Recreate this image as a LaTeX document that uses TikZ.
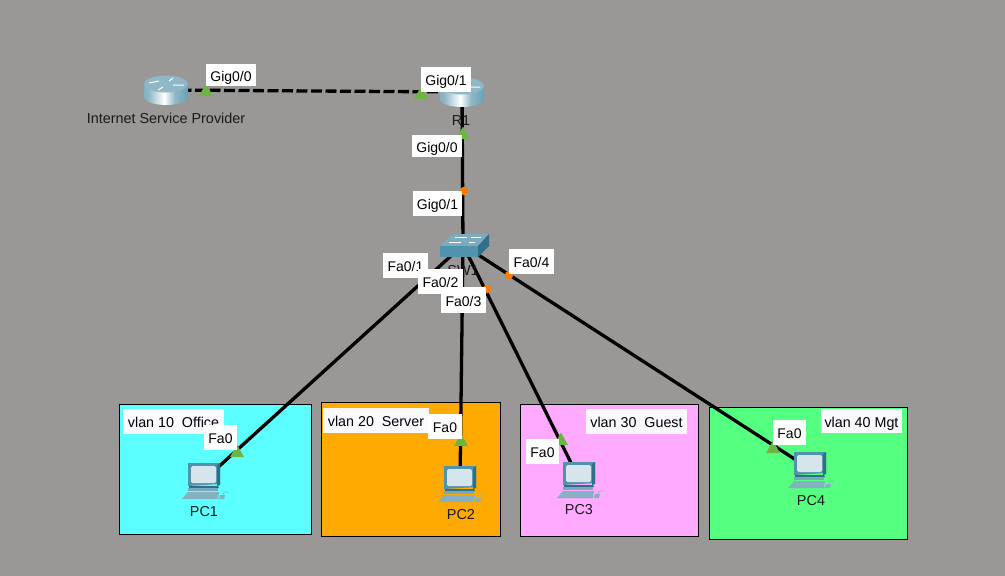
\documentclass[tikz,border=0pt]{standalone}
\usepackage{fontspec}
\setmainfont{Liberation Sans}
\definecolor{bgc}{HTML}{9A9896}
\definecolor{cyanz}{HTML}{5BFFFF}
\definecolor{orangez}{HTML}{FFAA00}
\definecolor{pinkz}{HTML}{FFAAFF}
\definecolor{greenz}{HTML}{55FF7F}
\definecolor{tri}{HTML}{6CB542}
\definecolor{dot}{HTML}{FF7A00}
\definecolor{vl}{HTML}{F9F9FF}
\definecolor{teal1}{HTML}{4F93AC}
\definecolor{teal2}{HTML}{2F7088}
\definecolor{teal3}{HTML}{8FB7C6}
\definecolor{scr}{HTML}{D6E5EC}
\pgfdeclarehorizontalshading{routerside}{100bp}{
 color(0bp)=(teal1); color(30bp)=(teal3); color(48bp)=(white); color(60bp)=(teal3); color(85bp)=(teal1); color(100bp)=(teal2)}
\tikzset{
 x=1pt,y=-1pt,
 lnk/.style={line width=3.3pt,black},
 wan/.style={lnk,dash pattern=on 11pt off 3.5pt},
 zone/.style={draw=black,line width=1pt},
 plabel/.style={fill=white,inner sep=0pt,text height=12pt,text depth=0pt,font=\fontsize{14}{16}\selectfont,text=black},
 vlabel/.style={plabel,fill=vl,font=\fontsize{14.3}{16}\selectfont},
 dname/.style={inner sep=0pt,font=\fontsize{14.4}{16}\selectfont,text=black!90},
 devnode/.style={inner sep=0pt,outer sep=0pt,minimum size=1pt},
 portdot/.style={circle,fill=dot,inner sep=0pt,minimum size=8.5pt},
 arr/.style={white,line width=1pt},
 porttri/.pic={\fill[tri] (0,-6.5)--(7,6)--(-7,6)--cycle;},
 routericon/.pic={
  \shade[shading=routerside] (-22,-6) -- (-22,7) arc[start angle=180,end angle=0,x radius=22,y radius=8] -- (22,-6) -- cycle;
  \fill[teal3] (0,-6) ellipse[x radius=22,y radius=8.5];
  \draw[arr] (-17,-7)--(-7,-9) (7,-5)--(18,-5) (-3,-3)--(-8,0) (3,-9)--(7,-12);
 },
 switchicon/.pic={
  \fill[teal3!70!teal1] (-23,1)--(15,1)--(26,-11)--(-10,-11)--cycle;
  \fill[teal1] (-23,1)--(15,1)--(15,12)--(-23,12)--cycle;
  \fill[teal2] (15,1)--(26,-11)--(26,1)--(15,12)--cycle;
  \draw[white,line width=0.8pt] (-8,-8)--(4,-8) (8,-8)--(18,-8) (-14,-3)--(-2,-3) (6,-3)--(12,-3);
 },
 pcicon/.pic={
  \fill[teal1] (-16,-17)--(16,-17)--(16,4)--(-16,6)--cycle;
  \fill[teal2] (13,-15)--(16,-17)--(16,5)--(13,6)--cycle;
  \fill[scr,rounded corners=1.5pt] (-13,-14)--(12,-14)--(12,3)--(-13,3)--cycle;
  \fill[teal2] (-15,6)--(14,6)--(15,8)--(-15,8)--cycle;
  \fill[teal3!60!teal1] (-16,8)--(14,8)--(14,11)--(-16,11)--cycle;
  \fill[teal3!85!teal1] (-16,12)--(15,12)--(14,19)--(-22,19)--cycle;
  \fill[teal3!85!teal1] (16,15)--(21,15)--(20,19)--(15,19)--cycle;
  \draw[teal3,line width=0.7pt] (19,15) .. controls (19,11) and (24,11) .. (24,13);
 }
}
\begin{document}
\begin{tikzpicture}
\useasboundingbox (0,0) rectangle (1005,576);
\fill[bgc] (0,0) rectangle (1005,576);
% VLAN zones
\draw[zone,fill=cyanz] (119.5,404.5) rectangle (311,534);
\draw[zone,fill=orangez] (321.5,402.5) rectangle (500.5,536);
\draw[zone,fill=pinkz] (520.5,404.5) rectangle (698.5,536);
\draw[zone,fill=greenz] (709,407.5) rectangle (907.5,539);
% VLAN captions
\node[vlabel,minimum width=101pt,minimum height=25pt] (v10) at (173.5,421.5) {vlan 10\ \ Office};
\node[vlabel,minimum width=106pt,minimum height=25pt] (v20) at (376,420.5) {vlan 20\ \ Server};
\node[vlabel,minimum width=101pt,minimum height=25pt] (v30) at (636.5,421.5) {vlan 30\ \ Guest};
\node[vlabel,minimum width=81pt,minimum height=24.5pt] (v40) at (861.5,421) {vlan 40 Mgt};
% Devices
\node[devnode] (isp) at (166,90) {};
\node[devnode] (r1) at (462,92) {};
\node[devnode] (sw) at (463,245) {};
\node[devnode] (pc1) at (204,480) {};
\node[devnode] (pc2) at (460,483) {};
\node[devnode] (pc3) at (579,479) {};
\node[devnode] (pc4) at (810,469) {};
% Links
\draw[wan] (isp.center) -- (r1.center);
\draw[lnk] (r1.center) -- (sw.center);
\draw[lnk] (sw.center) -- (pc1.center);
\draw[lnk] (sw.center) -- (pc2.center);
\draw[lnk] (sw.center) -- (pc3.center);
\draw[lnk] (sw.center) -- (pc4.center);
% Icons
\pic at (isp.center) {routericon};
\pic at (r1.center) {routericon};
\pic at (sw.center) {switchicon};
\pic at (pc1.center) {pcicon};
\pic at (pc2.center) {pcicon};
\pic at (pc3.center) {pcicon};
\pic at (pc4.center) {pcicon};
% Device names
\node[dname] (nisp) at (166,118) {Internet Service Provider};
\node[dname] (nr1) at (461,121) {R1};
\node[dname] (nsw) at (463,271) {SW1};
\node[dname] (npc1) at (204,512) {PC1};
\node[dname] (npc2) at (461,515) {PC2};
\node[dname] (npc3) at (579,510) {PC3};
\node[dname] (npc4) at (811,501) {PC4};
% Port markers
\pic at (206,90) {porttri};
\pic at (421,93) {porttri};
\pic at (463,133) {porttri};
\pic at (237,451) {porttri};
\pic at (461,440) {porttri};
\pic at (561,439) {porttri};
\pic at (773,447) {porttri};
\node[portdot] (d1) at (464,191) {};
\node[portdot] (d2) at (509,275) {};
\node[portdot] (d3) at (487,289) {};
% Port labels
\node[plabel,minimum width=50pt,minimum height=22pt] (l1) at (231,75) {Gig0/0};
\node[plabel,minimum width=50pt,minimum height=25pt] (l2) at (446,79.5) {Gig0/1};
\node[plabel,minimum width=50pt,minimum height=22pt] (l3) at (437,146) {Gig0/0};
\node[plabel,minimum width=49pt,minimum height=25pt] (l4) at (437.5,203.5) {Gig0/1};
\node[plabel,minimum width=45pt,minimum height=25pt] (l5) at (405.5,265.5) {Fa0/1};
\node[plabel,minimum width=45pt,minimum height=25pt] (l6) at (440.5,281.5) {Fa0/2};
\node[plabel,minimum width=45pt,minimum height=26pt] (l7) at (463.5,300) {Fa0/3};
\node[plabel,minimum width=45pt,minimum height=25pt] (l8) at (531.5,261.5) {Fa0/4};
\node[plabel,minimum width=33pt,minimum height=25pt] (l9) at (220.5,437.5) {Fa0};
\node[plabel,minimum width=34pt,minimum height=25pt] (l10) at (445,426.5) {Fa0};
\node[plabel,minimum width=33pt,minimum height=25pt] (l11) at (542.5,451.5) {Fa0};
\node[plabel,minimum width=33pt,minimum height=25pt] (l12) at (789.5,432.5) {Fa0};
\end{tikzpicture}
\end{document}
